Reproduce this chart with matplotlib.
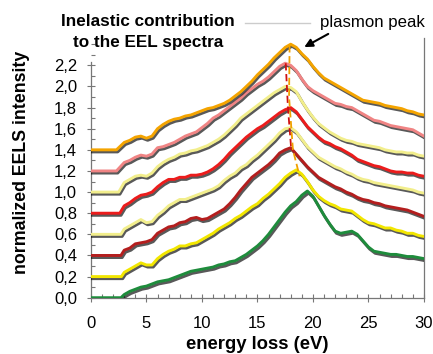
import matplotlib
matplotlib.use('Agg')
import matplotlib.pyplot as plt
import matplotlib.patheffects as pe
from matplotlib.ticker import MultipleLocator, FuncFormatter
from matplotlib.lines import Line2D

plt.rcParams['font.family'] = ['Liberation Sans', 'DejaVu Sans']

# common energy grid above the onset (eV)
grid = [3.0, 3.5, 4.0, 4.5, 5.0, 5.5, 6.0, 6.5, 7.0, 7.5, 8.0, 8.5, 9.0, 9.5, 10.0, 10.5, 11.0, 11.5,
        12.0, 12.5, 13.0, 13.5, 14.0, 14.5, 15.0, 15.5, 16.0, 16.5, 17.0, 17.5, 18.0, 18.5, 19.0, 19.5,
        20.0, 20.5, 21.0, 21.5, 22.0, 22.5, 23.0, 23.5, 24.0, 24.5, 25.0, 25.5, 26.0, 26.5, 27.0, 27.5,
        28.0, 28.5, 29.0, 29.5, 30.0]

# spectra bottom to top: offset, onset energy, values on grid
names = ['green', 'yellow', 'darkred', 'lightyellow2', 'red', 'lightyellow1', 'pink', 'orange']
colors = ['#1e8c3c', '#f2e600', '#b41e1e', '#f2ee8c', '#ec1c1c', '#f2ee8c', '#f08484', '#f4a400']
offsets = [0.0, 0.2, 0.4, 0.6, 0.8, 1.0, 1.2, 1.4]
onsets = [2.7, 2.75, 2.7, 2.7, 2.6, 2.5, 2.3, 2.3]

v_green = [0.03, 0.06, 0.08, 0.10, 0.11, 0.13, 0.15, 0.16, 0.17, 0.19, 0.21, 0.23, 0.25, 0.26, 0.27, 0.28,
           0.29, 0.31, 0.32, 0.34, 0.35, 0.38, 0.41, 0.45, 0.49, 0.54, 0.60, 0.67, 0.74, 0.81, 0.87, 0.91,
           0.97, 1.01, 0.96, 0.87, 0.78, 0.70, 0.63, 0.61, 0.62, 0.63, 0.60, 0.54, 0.48, 0.44, 0.43, 0.42,
           0.41, 0.41, 0.40, 0.39, 0.39, 0.38, 0.37]
v_yellow = [0.24, 0.27, 0.30, 0.33, 0.31, 0.31, 0.37, 0.41, 0.44, 0.46, 0.49, 0.49, 0.51, 0.52, 0.55, 0.58,
            0.61, 0.65, 0.68, 0.71, 0.75, 0.78, 0.82, 0.86, 0.89, 0.94, 0.98, 1.03, 1.08, 1.14, 1.18, 1.21,
            1.17, 1.10, 1.02, 0.96, 0.92, 0.89, 0.87, 0.84, 0.83, 0.82, 0.78, 0.74, 0.71, 0.70, 0.68, 0.66,
            0.66, 0.64, 0.63, 0.61, 0.61, 0.59, 0.58]
v_darkred = [0.45, 0.47, 0.51, 0.52, 0.53, 0.55, 0.61, 0.64, 0.67, 0.68, 0.71, 0.72, 0.75, 0.76, 0.74, 0.75,
             0.78, 0.81, 0.84, 0.89, 0.95, 1.02, 1.08, 1.14, 1.18, 1.22, 1.26, 1.31, 1.37, 1.40, 1.42, 1.36,
             1.30, 1.24, 1.19, 1.14, 1.11, 1.08, 1.05, 1.03, 1.00, 0.98, 0.95, 0.93, 0.92, 0.90, 0.89, 0.87,
             0.86, 0.85, 0.84, 0.83, 0.81, 0.79, 0.77]
v_lightyellow2 = [0.65, 0.68, 0.71, 0.74, 0.71, 0.72, 0.78, 0.82, 0.87, 0.90, 0.93, 0.93, 0.95, 0.97, 0.99, 1.01,
                  1.03, 1.06, 1.11, 1.15, 1.18, 1.23, 1.26, 1.31, 1.35, 1.40, 1.45, 1.50, 1.56, 1.60, 1.61, 1.57,
                  1.50, 1.43, 1.38, 1.33, 1.30, 1.27, 1.24, 1.22, 1.19, 1.17, 1.14, 1.12, 1.11, 1.09, 1.08, 1.07,
                  1.06, 1.05, 1.04, 1.03, 1.02, 1.00, 0.99]
v_red = [0.87, 0.90, 0.94, 0.97, 0.98, 1.00, 1.05, 1.09, 1.12, 1.12, 1.14, 1.14, 1.16, 1.16, 1.17, 1.19,
         1.22, 1.26, 1.31, 1.37, 1.42, 1.47, 1.52, 1.56, 1.60, 1.63, 1.67, 1.71, 1.75, 1.78, 1.80, 1.76,
         1.69, 1.62, 1.57, 1.52, 1.48, 1.46, 1.43, 1.41, 1.38, 1.35, 1.31, 1.29, 1.27, 1.25, 1.24, 1.22,
         1.20, 1.19, 1.19, 1.18, 1.18, 1.16, 1.15]
v_lightyellow1 = [1.09, 1.12, 1.15, 1.16, 1.15, 1.18, 1.24, 1.28, 1.31, 1.33, 1.36, 1.37, 1.39, 1.40, 1.42, 1.44,
                  1.47, 1.50, 1.54, 1.59, 1.64, 1.70, 1.74, 1.78, 1.82, 1.86, 1.90, 1.94, 1.97, 2.00, 1.99, 1.95,
                  1.86, 1.78, 1.71, 1.65, 1.61, 1.57, 1.54, 1.51, 1.49, 1.48, 1.46, 1.45, 1.44, 1.43, 1.42, 1.40,
                  1.39, 1.38, 1.38, 1.37, 1.37, 1.35, 1.34]
v_pink = [1.28, 1.30, 1.33, 1.35, 1.34, 1.36, 1.42, 1.43, 1.45, 1.47, 1.50, 1.53, 1.55, 1.57, 1.61, 1.65,
          1.70, 1.73, 1.77, 1.81, 1.85, 1.89, 1.94, 1.98, 2.02, 2.05, 2.09, 2.14, 2.19, 2.22, 2.20, 2.15,
          2.07, 2.00, 1.96, 1.93, 1.90, 1.87, 1.84, 1.83, 1.81, 1.80, 1.77, 1.74, 1.71, 1.68, 1.67, 1.65,
          1.63, 1.62, 1.61, 1.60, 1.59, 1.56, 1.53]
v_orange = [1.47, 1.49, 1.52, 1.53, 1.51, 1.53, 1.60, 1.64, 1.67, 1.69, 1.70, 1.72, 1.73, 1.75, 1.77, 1.79,
            1.80, 1.82, 1.84, 1.87, 1.91, 1.95, 2.00, 2.05, 2.11, 2.16, 2.21, 2.27, 2.32, 2.37, 2.40, 2.37,
            2.31, 2.26, 2.19, 2.13, 2.08, 2.05, 2.02, 1.99, 1.96, 1.93, 1.90, 1.87, 1.86, 1.85, 1.84, 1.82,
            1.81, 1.80, 1.79, 1.77, 1.76, 1.74, 1.73]

spectra = [v_green, v_yellow, v_darkred, v_lightyellow2, v_red, v_lightyellow1, v_pink, v_orange]

# plasmon peak guide lines
peak_e_orange = [17.9, 17.85, 18.2, 18.8]
peak_v_orange = [2.39, 1.90, 1.40, 1.15]
peak_e_red = [17.55, 17.75, 18.05]
peak_v_red = [2.22, 1.80, 1.40]

fig = plt.figure(figsize=(4.33, 3.54), dpi=100)
ax = fig.add_axes([0.210, 0.159, 0.769, 0.734])

shadow = [pe.SimpleLineShadow(offset=(0.9, -1.5), shadow_color='k', alpha=0.65), pe.Normal()]
for off, on, v, c in zip(offsets, onsets, spectra, colors):
    e = [0, on] + grid
    y = [off, off] + v
    ax.plot(e, y, color=c, lw=2.1, solid_joinstyle='round', path_effects=shadow, zorder=3)

ax.plot(peak_e_red, peak_v_red, color='#d01010', lw=1.3, ls=(0, (4, 2)), zorder=5)
ax.plot(peak_e_orange, peak_v_orange, color='#f0a000', lw=1.3, ls=(0, (4, 2)), zorder=5)

ax.annotate('', xy=(19.0, 2.36), xytext=(21.6, 2.51), annotation_clip=False,
            arrowprops=dict(arrowstyle='-|>', color='k', lw=1.5, mutation_scale=12))

ax.set_xlim(0, 30)
ax.set_ylim(0, 2.46)
ax.xaxis.set_major_locator(MultipleLocator(5))
ax.xaxis.set_minor_locator(MultipleLocator(1))
ax.yaxis.set_minor_locator(MultipleLocator(0.1))
ax.set_yticks([0.0, 0.2, 0.4, 0.6, 0.8, 1.0, 1.2, 1.4, 1.6, 1.8, 2.0, 2.2])
ax.yaxis.set_major_formatter(FuncFormatter(lambda v, p: f'{v:.1f}'.replace('.', ',')))

ax.spines['top'].set_visible(False)
for s in ['left', 'bottom', 'right']:
    ax.spines[s].set_color('#777777')
    ax.spines[s].set_linewidth(0.9)
ax.spines['left'].set_bounds(0, 2.23)

ax.tick_params(which='major', direction='inout', length=6, color='#777777', labelsize=12, width=0.8)
ax.tick_params(which='minor', direction='in', length=3, color='#777777', width=0.8)
ax.tick_params(axis='y', pad=7)
ax.tick_params(axis='x', pad=10)

ax.set_xlabel('energy loss (eV)', fontsize=13.3, fontweight='bold', labelpad=4)
ax.set_ylabel('normalized EELS intensity', fontsize=12.8, fontweight='bold')
ax.yaxis.set_label_coords(-0.183, 0.522)

fig.text(148 / 433, 1 - 22 / 354, 'Inelastic contribution', ha='center', va='center',
         fontsize=12.3, fontweight='bold')
fig.text(148 / 433, 1 - 43 / 354, 'to the EEL spectra', ha='center', va='center',
         fontsize=12.3, fontweight='bold')
fig.text(372 / 433, 1 - 22 / 354, 'plasmon peak', ha='center', va='center', fontsize=12.1)
fig.add_artist(Line2D([245 / 433, 310 / 433], [1 - 23 / 354, 1 - 23 / 354], color='#cccccc', lw=1))

fig.savefig('out.png', dpi=100)
